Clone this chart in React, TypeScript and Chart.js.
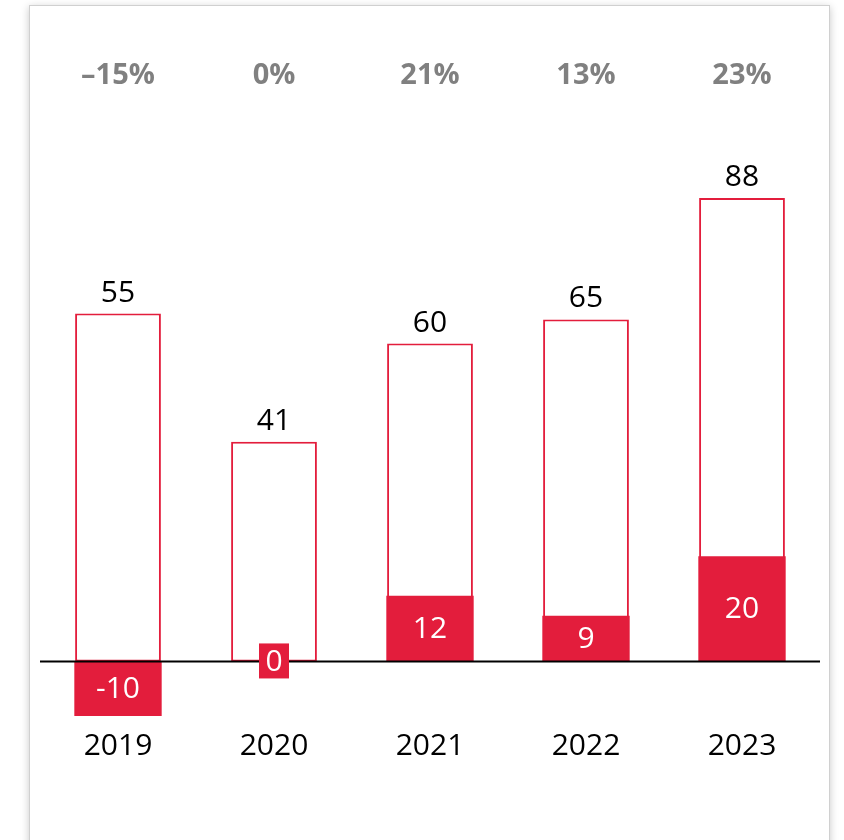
import React, { useEffect, useRef } from "react";
import { Chart, registerables } from "chart.js";

Chart.register(...registerables);

const years = ["2019", "2020", "2021", "2022", "2023"];
const totalBars = [66.2, 41.8, 60.5, 65.1, 88.2];
const totalLabels = ["55", "41", "60", "65", "88"];
const netBars = [-10.4, 0, 12.5, 8.7, 20];
const netLabels = ["-10", "0", "12", "9", "20"];
const pctLabels = ["–15%", "0%", "21%", "13%", "23%"];

const RED = "#e31d3c";
const FONT = "'Open Sans', 'Noto Sans', sans-serif";

const labelPlugin = {
  id: "customLabels",
  afterDatasetsDraw(chart: any) {
    const ctx = chart.ctx;
    const netMeta = chart.getDatasetMeta(0);
    const totMeta = chart.getDatasetMeta(1);
    const xs = chart.scales.x;
    ctx.save();
    // zero line
    const y0 = chart.scales.y.getPixelForValue(0);
    ctx.strokeStyle = "#000";
    ctx.lineWidth = 2;
    ctx.beginPath();
    ctx.moveTo(chart.chartArea.left, y0);
    ctx.lineTo(chart.chartArea.right, y0);
    ctx.stroke();

    ctx.textAlign = "center";
    // percentages
    ctx.font = `bold 29px ${FONT}`;
    ctx.fillStyle = "#808080";
    ctx.textBaseline = "middle";
    pctLabels.forEach((t, i) => {
      ctx.fillText(t, xs.getPixelForValue(i), 76);
    });
    // total labels
    ctx.font = `30px ${FONT}`;
    ctx.fillStyle = "#000";
    ctx.textBaseline = "alphabetic";
    totMeta.data.forEach((bar: any, i: number) => {
      ctx.fillText(totalLabels[i], bar.x, bar.y - 12);
    });
    // net labels
    ctx.textBaseline = "middle";
    netMeta.data.forEach((bar: any, i: number) => {
      const cy = (bar.y + bar.base) / 2;
      if (Math.abs(bar.y - bar.base) < 1) {
        ctx.fillStyle = RED;
        ctx.fillRect(bar.x - 15, cy - 18, 30, 35);
      }
      ctx.fillStyle = "#fff";
      ctx.fillText(netLabels[i], bar.x, cy + 1);
    });
    ctx.restore();
  },
};

export default function App() {
  const ref = useRef<HTMLCanvasElement | null>(null);
  useEffect(() => {
    if (!ref.current) return;
    const chart = new Chart(ref.current, {
      type: "bar",
      data: {
        labels: years,
        datasets: [
          {
            data: netBars,
            backgroundColor: RED,
            borderWidth: 0,
            grouped: false,
            barPercentage: 0.56,
            categoryPercentage: 1,
          } as any,
          {
            data: totalBars,
            backgroundColor: "#ffffff",
            borderColor: RED,
            borderWidth: 2,
            borderSkipped: false,
            grouped: false,
            barPercentage: 0.55,
            categoryPercentage: 1,
          } as any,
        ],
      },
      options: {
        animation: false,
        responsive: false,
        maintainAspectRatio: false,
        layout: { padding: { left: 40, right: 24, top: 136, bottom: 71.5 } },
        plugins: { legend: { display: false }, tooltip: { enabled: false } },
        scales: {
          x: {
            grid: { display: false, drawTicks: false },
            border: { display: false },
            ticks: {
              padding: 4,
              color: "#000",
              font: { family: FONT, size: 30 },
            },
          },
          y: {
            display: false,
            min: -12,
            max: 100,
          },
        },
      },
      plugins: [labelPlugin],
    });
    return () => chart.destroy();
  }, []);

  return (
    <div style={{ position: "fixed", left: 0, top: 0, width: 844, height: 840, background: "#fff", overflow: "hidden" }}>
      <div
        style={{
          position: "absolute",
          left: 29,
          top: 5,
          width: 799,
          height: 840,
          border: "1px solid #d0d0d0",
          boxShadow: "0 2px 8px rgba(0,0,0,0.22)",
          background: "#fff",
        }}
      />
      <canvas ref={ref} width={844} height={840} style={{ position: "absolute", left: 0, top: 0 }} />
    </div>
  );
}
